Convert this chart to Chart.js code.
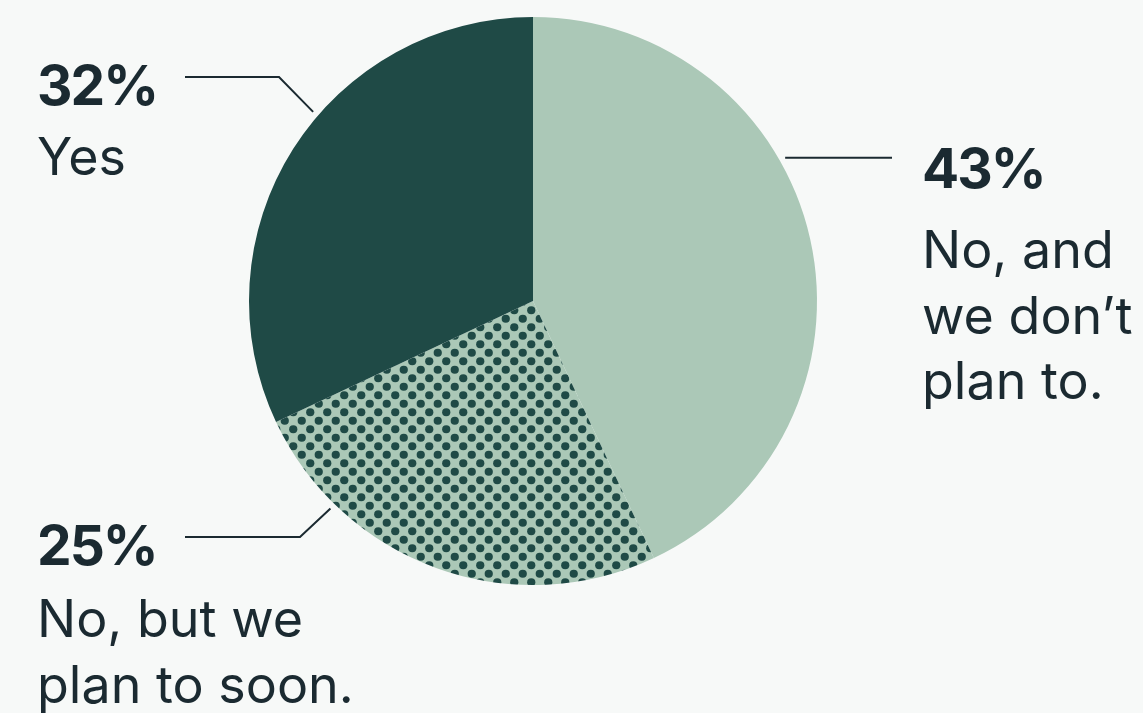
<!DOCTYPE html>
<html>
<head>
<meta charset="utf-8">
<script src="https://cdn.jsdelivr.net/npm/chart.js@4"></script>
<style>
  html, body { margin: 0; padding: 0; background: #f7f9f8; }
  #wrap { width: 1143px; height: 713px; position: relative; }
</style>
</head>
<body>
<div id="wrap"><canvas id="pie" width="1143" height="713"></canvas></div>
<script>
// Survey answers, clockwise from 12 o'clock
const categories = ["No, and we don\u2019t plan to.", "No, but we plan to soon.", "Yes"];
const shares = [43, 25, 32];
// Label text broken into the lines shown beside each slice
const labelLines = [
  ["No, and", "we don\u2019t", "plan to."],
  ["No, but we", "plan to soon."],
  ["Yes"]
];

const DARK = '#1f4a46';
const LIGHT = '#abc8b7';
const INK = '#1b2a31';

// Halftone dot fill for the "plan to soon" slice
function dotPattern() {
  const s = 17;
  const t = document.createElement('canvas');
  t.width = s; t.height = s;
  const c = t.getContext('2d');
  c.fillStyle = LIGHT;
  c.fillRect(0, 0, s, s);
  c.fillStyle = DARK;
  [[s / 4, s / 4], [3 * s / 4, 3 * s / 4]].forEach(([x, y]) => {
    c.beginPath(); c.arc(x, y, 4.1, 0, Math.PI * 2); c.fill();
  });
  return c.createPattern(t, 'repeat');
}

const ctx0 = document.getElementById('pie').getContext('2d');
const fills = [LIGHT, dotPattern(), DARK];

// Callout layout: text anchor, gap to the answer text, leader start/elbow,
// and the angle (deg, clockwise from top) where the leader meets the pie
const callouts = [
  { tx: 922, ty: 188, gap: 80, lineStart: 892, elbow: null, angle: 60.4 },
  { tx: 37, ty: 565, gap: 72, lineStart: 185, elbow: 300, angle: 224.3 },
  { tx: 37, ty: 105, gap: 70, lineStart: 185, elbow: 279, angle: 310.7 }
];

const calloutPlugin = {
  id: 'callouts',
  afterDatasetsDraw(chart) {
    const ctx = chart.ctx;
    const arcs = chart.getDatasetMeta(0).data;
    ctx.save();
    callouts.forEach((co, i) => {
      const arc = arcs[i];
      const a = (co.angle - 90) * Math.PI / 180;
      const r = arc.outerRadius + 6;
      const px = arc.x + Math.cos(a) * r;
      const py = arc.y + Math.sin(a) * r;

      // leader line
      ctx.strokeStyle = INK;
      ctx.lineWidth = 2;
      ctx.beginPath();
      if (co.elbow === null) {
        ctx.moveTo(co.lineStart, py);
        ctx.lineTo(px, py);
      } else {
        const ly = co.ty - 28;
        ctx.moveTo(co.lineStart, ly);
        ctx.lineTo(co.elbow, ly);
        ctx.lineTo(px, py);
      }
      ctx.stroke();

      // value and answer text
      ctx.fillStyle = INK;
      ctx.textAlign = 'left';
      ctx.textBaseline = 'alphabetic';
      ctx.font = 'bold 55px Inter';
      ctx.letterSpacing = '-2px';
      ctx.fillText(shares[i] + '%', co.tx, co.ty);
      ctx.letterSpacing = '0px';
      ctx.font = '52px Inter';
      labelLines[i].forEach((ln, k) => {
        ctx.fillText(ln, co.tx, co.ty + co.gap + k * 65.7);
      });
    });
    ctx.restore();
  }
};

new Chart(ctx0, {
  type: 'pie',
  data: {
    labels: categories,
    datasets: [{
      data: shares,
      backgroundColor: fills,
      borderWidth: 0,
      hoverOffset: 0
    }]
  },
  options: {
    responsive: false,
    animation: false,
    events: [],
    layout: { padding: { left: 249, right: 326, top: 17, bottom: 128 } },
    plugins: { legend: { display: false }, tooltip: { enabled: false } }
  },
  plugins: [calloutPlugin]
});
</script>
</body>
</html>
